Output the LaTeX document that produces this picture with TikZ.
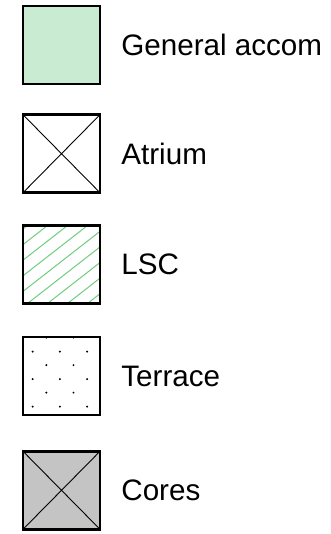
\documentclass[tikz,border=0pt]{standalone}
\usepackage{fontspec}
\setmainfont{Liberation Sans}
\usetikzlibrary{positioning}
\definecolor{accomgreen}{HTML}{C9EBD1}
\definecolor{hatchgreen}{HTML}{6FCC7E}
\definecolor{coregrey}{HTML}{C4C4C4}
\tikzstyle{legendbox} = [rectangle, minimum width=77pt, minimum height=78pt, draw=black, line width=2.4pt]
\tikzstyle{accombox} = [legendbox, fill=accomgreen]
\tikzstyle{crossbox} = [legendbox, path picture={\draw[line width=0.9pt] (path picture bounding box.south west) -- (path picture bounding box.north east) (path picture bounding box.north west) -- (path picture bounding box.south east);}]
\tikzstyle{corebox} = [crossbox, fill=coregrey]
\tikzstyle{hatchbox} = [legendbox, path picture={\foreach \k in {-5,...,4} \draw[hatchgreen, line width=1pt] ([yshift={12pt+15.6pt*\k}]path picture bounding box.south west) -- ++(100pt,78pt);}]
\tikzstyle{dotbox} = [legendbox, path picture={
	\foreach \i in {0,1,2} \foreach \j in {0,1,2} \fill ([xshift={9.7pt+27.2pt*\i}, yshift={-14.5pt-27.5pt*\j}]path picture bounding box.north west) circle (1.1pt);
	\foreach \i in {0,1} \foreach \j in {0,1,2} \fill ([xshift={23.3pt+27.2pt*\i}, yshift={-0.5pt-27.5pt*\j}]path picture bounding box.north west) circle (1.1pt);}]
\tikzstyle{legendtext} = [inner sep=0pt, font=\fontsize{29.6}{36}\selectfont]

\begin{document}
\begin{tikzpicture}
	\useasboundingbox (0,0) rectangle (331pt,-534pt);
	\node (accom) [accombox] at (61.5pt,-45pt) {};
	\node (atrium) [crossbox, below=28.3pt of accom] {};
	\node (lsc) [hatchbox, below=30.3pt of atrium] {};
	\node (terrace) [dotbox, below=31.3pt of lsc] {};
	\node (cores) [corebox, below=33.8pt of terrace] {};

	\node (accom_text) [legendtext, right=20pt of accom] {General accom};
	\node (atrium_text) [legendtext, right=20pt of atrium] {Atrium};
	\node (lsc_text) [legendtext, right=20pt of lsc] {LSC};
	\node (terrace_text) [legendtext, right=20pt of terrace] {Terrace};
	\node (cores_text) [legendtext, right=20pt of cores] {Cores};
\end{tikzpicture}
\end{document}
